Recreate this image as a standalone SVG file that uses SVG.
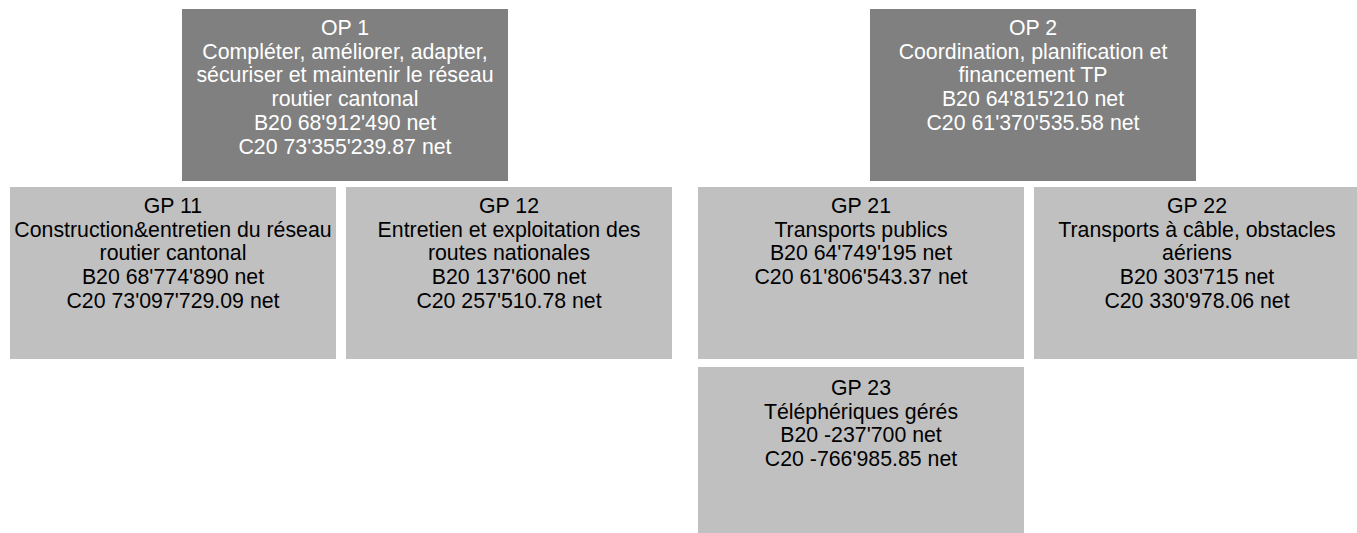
<svg xmlns="http://www.w3.org/2000/svg" width="1357" height="533" viewBox="0 0 1357 533">
<style>
.op{fill:#808080}
.gp{fill:#c0c0c0}
text{font-family:"Liberation Sans",Arial,sans-serif;font-size:21.3px;text-anchor:middle}
.op-t{fill:#ffffff}
.gp-t{fill:#000000}
</style>
<rect width="1357" height="533" fill="#ffffff"/>
<g id="connectors"></g>
<g id="op1">
<rect class="op" x="182" y="9" width="326" height="172"/>
<text class="op-t" x="345" y="35"><tspan x="345">OP 1</tspan><tspan x="345" dy="23.7">Compléter, améliorer, adapter,</tspan><tspan x="345" dy="23.7">sécuriser et maintenir le réseau</tspan><tspan x="345" dy="23.7">routier cantonal</tspan><tspan x="345" dy="23.7">B20 68'912'490 net</tspan><tspan x="345" dy="23.7">C20 73'355'239.87 net</tspan></text>
</g>
<g id="op2">
<rect class="op" x="870" y="9" width="326" height="172"/>
<text class="op-t" x="1033" y="35"><tspan x="1033">OP 2</tspan><tspan x="1033" dy="23.7">Coordination, planification et</tspan><tspan x="1033" dy="23.7">financement TP</tspan><tspan x="1033" dy="23.7">B20 64'815'210 net</tspan><tspan x="1033" dy="23.7">C20 61'370'535.58 net</tspan></text>
</g>
<g id="gp11">
<rect class="gp" x="10" y="187" width="326" height="172"/>
<text class="gp-t" x="173" y="213"><tspan x="173">GP 11</tspan><tspan x="173" dy="23.7">Construction&amp;entretien du réseau</tspan><tspan x="173" dy="23.7">routier cantonal</tspan><tspan x="173" dy="23.7">B20 68'774'890 net</tspan><tspan x="173" dy="23.7">C20 73'097'729.09 net</tspan></text>
</g>
<g id="gp12">
<rect class="gp" x="346" y="187" width="326" height="172"/>
<text class="gp-t" x="509" y="213"><tspan x="509">GP 12</tspan><tspan x="509" dy="23.7">Entretien et exploitation des</tspan><tspan x="509" dy="23.7">routes nationales</tspan><tspan x="509" dy="23.7">B20 137'600 net</tspan><tspan x="509" dy="23.7">C20 257'510.78 net</tspan></text>
</g>
<g id="gp21">
<rect class="gp" x="698" y="187" width="326" height="172"/>
<text class="gp-t" x="861" y="213"><tspan x="861">GP 21</tspan><tspan x="861" dy="23.7">Transports publics</tspan><tspan x="861" dy="23.7">B20 64'749'195 net</tspan><tspan x="861" dy="23.7">C20 61'806'543.37 net</tspan></text>
</g>
<g id="gp22">
<rect class="gp" x="1034" y="187" width="326" height="172"/>
<text class="gp-t" x="1197" y="213"><tspan x="1197">GP 22</tspan><tspan x="1197" dy="23.7">Transports à câble, obstacles</tspan><tspan x="1197" dy="23.7">aériens</tspan><tspan x="1197" dy="23.7">B20 303'715 net</tspan><tspan x="1197" dy="23.7">C20 330'978.06 net</tspan></text>
</g>
<g id="gp23">
<rect class="gp" x="698" y="367" width="326" height="172"/>
<text class="gp-t" x="861" y="395"><tspan x="861">GP 23</tspan><tspan x="861" dy="23.7">Téléphériques gérés</tspan><tspan x="861" dy="23.7">B20 -237'700 net</tspan><tspan x="861" dy="23.7">C20 -766'985.85 net</tspan></text>
</g>
</svg>
